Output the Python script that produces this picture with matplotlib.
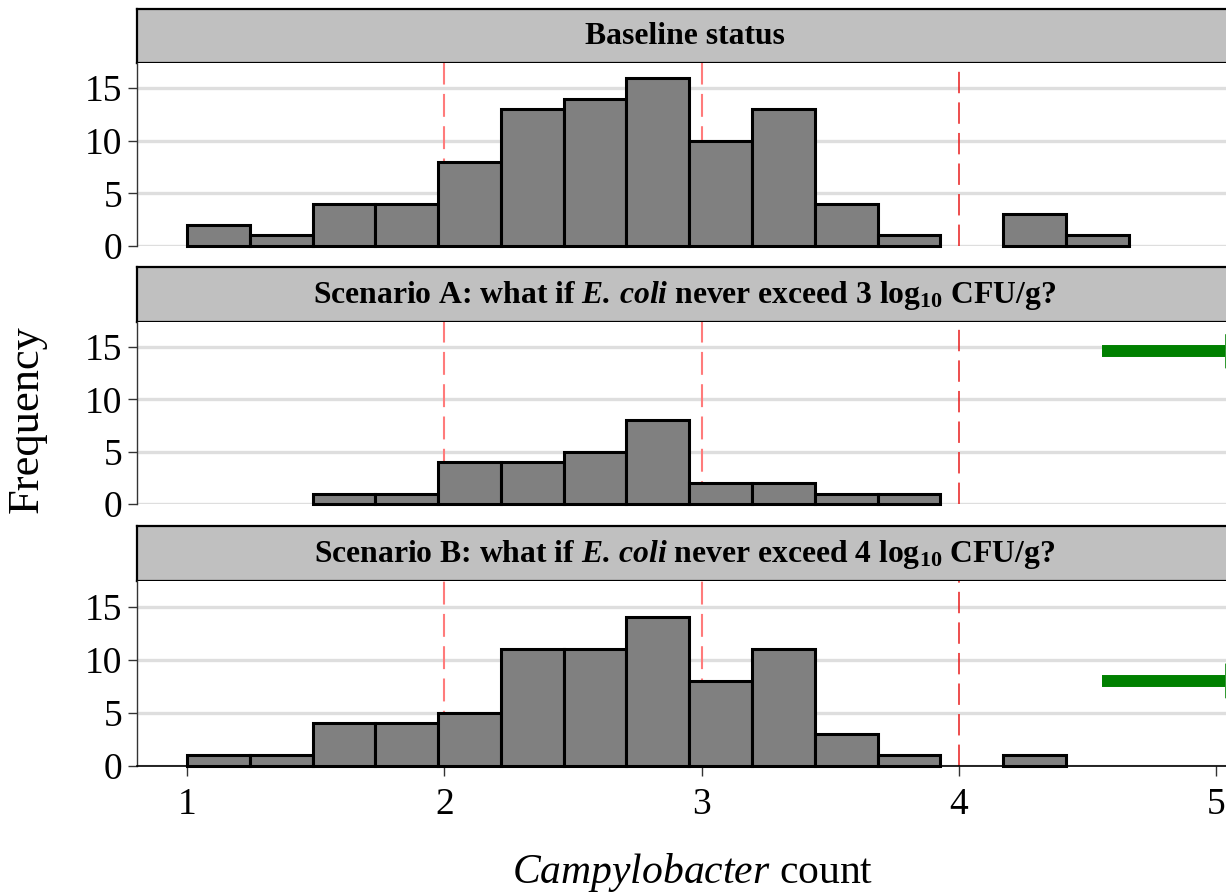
import numpy as np
import matplotlib
matplotlib.use("Agg")
import matplotlib.pyplot as plt

plt.rcParams['font.family'] = ['Liberation Serif', 'DejaVu Serif']
plt.rcParams['mathtext.fontset'] = 'custom'
plt.rcParams['mathtext.rm'] = 'Liberation Serif'
plt.rcParams['mathtext.it'] = 'Liberation Serif:italic'
plt.rcParams['mathtext.bf'] = 'Liberation Serif:bold'
plt.rcParams['mathtext.bfit'] = 'Liberation Serif:bold:italic'

# ---------------- data ----------------
bin_start = 1.0
bin_width = 0.244
n_bins = 15
bin_edges = bin_start + bin_width * np.arange(n_bins + 1)

baseline_counts = [2, 1, 4, 4, 8, 13, 14, 16, 10, 13, 4, 1, 0, 3, 1]
scenario_a_counts = [0, 0, 1, 1, 4, 4, 5, 8, 2, 2, 1, 1, 0, 0, 0]
scenario_b_counts = [1, 1, 4, 4, 5, 11, 11, 14, 8, 11, 3, 1, 0, 1, 0]

panel_titles = [
    "Baseline status",
    r"Scenario A: what if $\mathbfit{E.\,coli}$ never exceed 3 log$_{\mathbf{10}}$ CFU/g?",
    r"Scenario B: what if $\mathbfit{E.\,coli}$ never exceed 4 log$_{\mathbf{10}}$ CFU/g?",
]
panel_counts = [baseline_counts, scenario_a_counts, scenario_b_counts]

ref_lines_light = [2, 3]
ref_line_dark = 4

# arrows (panel index -> (x start, x head, y))
arrows = {1: (4.555, 5.035, 14.6), 2: (4.555, 5.035, 8.0)}

y_ticks = [0, 5, 10, 15]
x_ticks = [1, 2, 3, 4, 5]
x_label_italic = "Campylobacter"
x_label_rest = " count"
y_label = "Frequency"

# ---------------- layout ----------------
W, H = 1226, 893
fig = plt.figure(figsize=(W / 100, H / 100), dpi=100)

left_px = 137
right_px = 1240
px_per_unit = 257.3
x_left = 1 - (187 - left_px) / px_per_unit
x_right = x_left + (right_px - left_px) / px_per_unit

panels_px = [  # strip top, strip bottom / plot top, plot bottom
    (9, 63, 246),
    (267, 322, 504),
    (526, 581, 766),
]

def fy(y):
    return 1 - y / H

for i, (st, sb, pb) in enumerate(panels_px):
    # strip
    sax = fig.add_axes([left_px / W, fy(sb), (right_px - left_px) / W, (sb - st) / H])
    sax.set_facecolor('#c0c0c0')
    sax.set_xticks([]); sax.set_yticks([])
    for s in sax.spines.values():
        s.set_color('black'); s.set_linewidth(1.6)
    fig.text(685 / W, fy((st + sb) / 2 + 1), panel_titles[i], ha='center', va='center',
             fontsize=22.8, fontweight='bold')

    ax = fig.add_axes([left_px / W, fy(pb), (right_px - left_px) / W, (pb - sb) / H])
    ax.set_xlim(x_left, x_right)
    ax.set_ylim(0, 17.4)
    ax.set_facecolor('white')
    ax.set_axisbelow(True)
    ax.yaxis.grid(True, color='#dedede', linewidth=2.4, zorder=0)
    ax.xaxis.grid(False)

    for v in ref_lines_light:
        ax.axvline(v, color='#ff7b7b', linewidth=1.5, linestyle=(0, (11, 4.5)), zorder=1)
    ax.axvline(ref_line_dark, color='#e81c1c', linewidth=1.1, linestyle=(0, (14, 6)), zorder=1)

    counts = np.array(panel_counts[i], dtype=float)
    mask = counts > 0
    ax.bar(bin_edges[:-1][mask], counts[mask], width=np.diff(bin_edges)[mask], align='edge',
           color='#808080', edgecolor='black', linewidth=2.2, zorder=2, clip_on=False)

    if i in arrows:
        xs, xh, ya = arrows[i]
        ax.plot([xs, xh], [ya, ya], color='#008000', linewidth=8.6, solid_capstyle='butt', zorder=3)
        ax.fill([xh, xh, xh + 0.15], [ya - 1.65, ya + 1.65, ya], color='#008000', zorder=3,
                linewidth=0)

    ax.set_yticks(y_ticks)
    ax.set_yticklabels([str(t) for t in y_ticks])
    ax.tick_params(axis='y', direction='out', length=6.5, width=1, color='#333333',
                   labelsize=27, pad=4)
    for s in ['top', 'right']:
        ax.spines[s].set_visible(False)
    ax.spines['left'].set_color('#333333')
    ax.spines['left'].set_linewidth(1.0)
    if i == 2:
        ax.set_xticks(x_ticks)
        ax.set_xticklabels([str(t) for t in x_ticks])
        ax.tick_params(axis='x', direction='out', length=7.5, width=1, color='#333333',
                       labelsize=27, pad=8)
        ax.spines['bottom'].set_color('black')
        ax.spines['bottom'].set_linewidth(1.2)
    else:
        ax.set_xticks([])
        ax.spines['bottom'].set_visible(False)

fig.text(693 / W, fy(872), r"$\mathit{%s}$%s" % (x_label_italic, x_label_rest),
         ha='center', va='center', fontsize=30)
fig.text(27 / W, fy(419), y_label, rotation=90, ha='center', va='center', fontsize=32)

fig.savefig("out.png", dpi=100)
